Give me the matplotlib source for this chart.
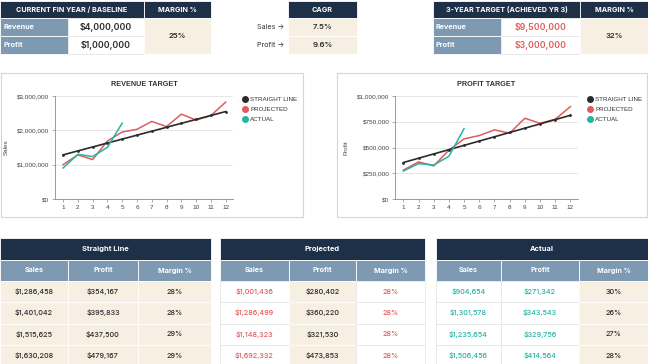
import matplotlib
matplotlib.use('Agg')
import matplotlib.pyplot as plt
from matplotlib.patches import Rectangle
from matplotlib.lines import Line2D
from matplotlib.ticker import FuncFormatter

# data
months = [1, 2, 3, 4, 5, 6, 7, 8, 9, 10, 11, 12]
sl_sales = [1286458, 1401042, 1515625, 1630208, 1744792, 1859375, 1973958, 2088542, 2203125, 2317708, 2432292, 2546875]
sl_profit = [354167, 395833, 437500, 479167, 520833, 562500, 604167, 645833, 687500, 729167, 770833, 812500]
pr_sales = [1001436, 1286499, 1148323, 1692332, 1950000, 2030000, 2260000, 2110000, 2470000, 2300000, 2430000, 2820000]
pr_profit = [280402, 360220, 321530, 473853, 584000, 616000, 671000, 639000, 784000, 735000, 774000, 897000]
ac_months = [1, 2, 3, 4, 5]
ac_sales = [904654, 1301578, 1235654, 1506456, 2210000]
ac_profit = [271342, 343543, 329756, 414564, 684000]

sl_margin = ['28%', '28%', '29%', '29%']
pr_margin = ['28%', '28%', '28%', '28%']
ac_margin = ['30%', '26%', '27%', '28%']

base_rev, base_profit, base_margin = 4000000, 1000000, '25%'
cagr_sales, cagr_profit = '7.5%', '9.6%'
tgt_rev, tgt_profit, tgt_margin = 9500000, 3000000, '32%'

rev_ticks = [0, 1000000, 2000000, 3000000]
profit_ticks = [0, 250000, 500000, 750000, 1000000]

# colours
NAVY = '#1d3047'
STEEL = '#7d9ab2'
BEIGE = '#f6efe2'
RED = '#e05c5c'
TEAL = '#26b3a3'
DARK = '#2b2b2b'
TFONT = ['Inter', 'DejaVu Sans']
CFONT = ['Liberation Sans', 'DejaVu Sans']

money = lambda v: f'${v:,.0f}'

fig = plt.figure(figsize=(6.48, 3.64), dpi=100)
bg = fig.add_axes([0, 0, 1, 1])
bg.set_xlim(0, 648)
bg.set_ylim(364, 0)
bg.axis('off')


def cell(x0, y0, x1, y1, fc, text='', color='white', weight='bold', size=5.2, ha='center', ec='white'):
    bg.add_patch(Rectangle((x0, y0), x1 - x0, y1 - y0, facecolor=fc, edgecolor=ec, lw=0.6))
    if text:
        tx = (x0 + x1) / 2 if ha == 'center' else x0 + 3
        bg.text(tx, (y0 + y1) / 2, text, color=color, fontweight=weight, fontsize=size,
                ha=ha, va='center', family=TFONT)


# top left table
cell(0, 1, 144, 18, NAVY, 'CURRENT FIN YEAR / BASELINE')
cell(144, 1, 211, 18, NAVY, 'MARGIN %')
cell(0, 18, 68, 36, STEEL, 'Revenue', ha='left')
cell(0, 36, 68, 54, STEEL, 'Profit', ha='left')
cell(68, 18, 144, 36, 'white', money(base_rev), DARK, 'semibold', 6.3, ec='#e6e6e6')
cell(68, 36, 144, 54, 'white', money(base_profit), DARK, 'semibold', 6.3, ec='#e6e6e6')
cell(144, 18, 211, 54, BEIGE, base_margin, DARK, 'semibold', 5.6)

# CAGR table
cell(288, 1, 357, 18, NAVY, 'CAGR')
cell(288, 18, 357, 36, BEIGE, cagr_sales, DARK, 'semibold', 5.6)
cell(288, 36, 357, 54, BEIGE, cagr_profit, DARK, 'semibold', 5.6)
bg.text(284, 27, 'Sales →', ha='right', va='center', fontsize=5.2, color='#333333', family=TFONT)
bg.text(284, 45, 'Profit →', ha='right', va='center', fontsize=5.2, color='#333333', family=TFONT)

# top right table
cell(433, 1, 580, 18, NAVY, '3-YEAR TARGET (ACHIEVED YR 3)')
cell(580, 1, 648, 18, NAVY, 'MARGIN %')
cell(433, 18, 501, 36, STEEL, 'Revenue', ha='left')
cell(433, 36, 501, 54, STEEL, 'Profit', ha='left')
cell(501, 18, 580, 36, 'white', money(tgt_rev), RED, 'semibold', 6.3, ec='#e6e6e6')
cell(501, 36, 580, 54, 'white', money(tgt_profit), RED, 'semibold', 6.3, ec='#e6e6e6')
cell(580, 18, 648, 54, BEIGE, tgt_margin, DARK, 'semibold', 5.6)


# charts
def chart(box, plot, title, sl, pr, ac, ylabel, yticks):
    bx0, bx1 = box
    bg.add_patch(Rectangle((bx0, 73), bx1 - bx0, 144, facecolor='white', edgecolor='#d6d6d6', lw=0.8))
    px0, px1 = plot
    ax = fig.add_axes([px0 / 648, (364 - 199) / 364, (px1 - px0) / 648, 103 / 364])
    ax.plot(months, sl, color=DARK, lw=1.2, marker='o', ms=1.0, zorder=3)
    ax.plot(months, pr, color=RED, lw=1.1, zorder=2)
    ax.plot(ac_months, ac, color=TEAL, lw=1.1, zorder=4)
    ax.set_xlim(0.45, 12.5)
    ax.set_ylim(0, yticks[-1])
    ax.set_xticks(months)
    ax.set_yticks(yticks)
    ax.yaxis.set_major_formatter(FuncFormatter(lambda v, p: money(v)))
    ax.grid(axis='y', color='#e3e3e3', lw=0.6)
    ax.set_axisbelow(True)
    for s in ['top', 'right']:
        ax.spines[s].set_visible(False)
    for s in ['left', 'bottom']:
        ax.spines[s].set_color('#8a8a8a')
        ax.spines[s].set_linewidth(0.6)
    ax.tick_params(labelsize=4.6, colors='#8a8a8a', labelcolor='#444444', length=2, width=0.5, pad=2)
    for lab in ax.get_xticklabels() + ax.get_yticklabels():
        lab.set_family(CFONT)
    ax.set_title(title, fontsize=5.2, fontweight='bold', color='#333333', family=CFONT, pad=7)
    ax.set_ylabel(ylabel, fontsize=4.5, color='#444444', family=CFONT, labelpad=6)
    handles = [Line2D([], [], ls='none', marker='o', ms=4, color=c) for c in [DARK, RED, TEAL]]
    leg = ax.legend(handles, ['STRAIGHT LINE', 'PROJECTED', 'ACTUAL'], loc='upper left',
                    bbox_to_anchor=(1.02, 1.05), frameon=False,
                    handletextpad=0.3, labelspacing=0.75, handlelength=1.0,
                    prop={'family': CFONT, 'size': 4.5})
    for t in leg.get_texts():
        t.set_color('#333333')
    return ax


chart((1, 303), (55, 233), 'REVENUE TARGET', sl_sales, pr_sales, ac_sales, 'Sales', rev_ticks)
chart((337, 647), (395, 578), 'PROFIT TARGET', sl_profit, pr_profit, ac_profit, 'Profit', profit_ticks)


# bottom tables
def data_table(x0, c1, c2, x1, title, sales, profit, margin, fills, colors):
    cell(x0, 238, x1, 260, NAVY, title, size=5.4)
    cols = [(x0, c1), (c1, c2), (c2, x1)]
    for (a, b), name in zip(cols, ['Sales', 'Profit', 'Margin %']):
        cell(a, 260, b, 281, STEEL, name, size=5.2)
    for i in range(len(sales)):
        y0 = 281 + i * 21.3
        vals = [money(sales[i]), money(profit[i]), margin[i]]
        for (a, b), v, fc, tc in zip(cols, vals, fills, colors):
            ec = 'white' if fc == BEIGE else '#e6e6e6'
            cell(a, y0, b, y0 + 21.3, fc, v, tc, 'medium', 5.2, ec=ec)


data_table(0, 68, 138, 211, 'Straight Line', sl_sales[:4], sl_profit[:4], sl_margin,
           [BEIGE, BEIGE, BEIGE], [DARK, DARK, DARK])
data_table(220, 289, 356, 425, 'Projected', pr_sales[:4], pr_profit[:4], pr_margin,
           ['white', BEIGE, 'white'], [RED, DARK, RED])
data_table(436, 501, 579, 648, 'Actual', ac_sales[:4], ac_profit[:4], ac_margin,
           ['white', 'white', BEIGE], [TEAL, TEAL, DARK])

fig.savefig('out.png', dpi=100)
